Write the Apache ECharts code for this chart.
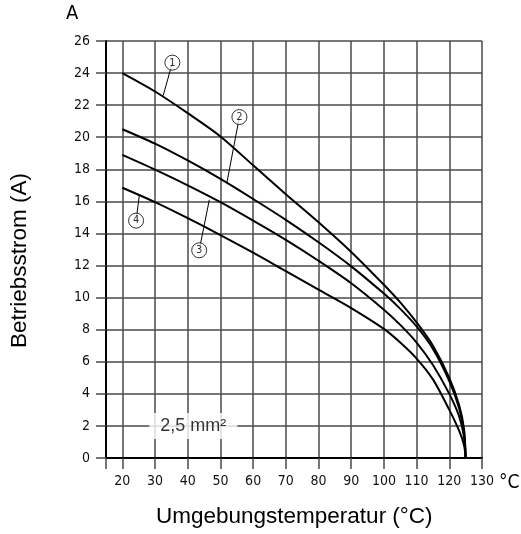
<!DOCTYPE html>
<html>
<head>
<meta charset="utf-8">
<script src="https://cdn.jsdelivr.net/npm/echarts@6/dist/echarts.min.js"></script>
<style>
html,body{margin:0;padding:0;background:#fff;}
#main{width:521px;height:534px;}
</style>
</head>
<body>
<div id="main"></div>
<script>
// Umgebungstemperatur (°C)
var temps  = [20, 30, 40, 50, 60, 70, 80, 90, 100, 105, 110, 115, 120, 123, 124.5, 125];
// Betriebsstrom (A), Kurven 1..4
var curve1 = [24.0, 22.85, 21.5, 20.05, 18.25, 16.45, 14.7, 12.85, 10.8, 9.7, 8.45, 7.0, 5.0, 3.3, 1.8, 0];
var curve2 = [20.5, 19.6, 18.55, 17.4, 16.15, 14.85, 13.45, 11.95, 10.25, 9.3, 8.2, 6.8, 4.8, 3.1, 1.6, 0];
var curve3 = [18.9, 17.98, 17.0, 15.95, 14.8, 13.6, 12.3, 10.9, 9.25, 8.3, 7.2, 5.8, 4.0, 2.6, 1.3, 0];
var curve4 = [16.85, 15.95, 14.95, 13.9, 12.8, 11.65, 10.5, 9.35, 8.05, 7.2, 6.2, 4.9, 3.0, 1.7, 0.8, 0];

var xTicks = [15, 20, 30, 40, 50, 60, 70, 80, 90, 100, 110, 120, 130];
var xLabels = [20, 30, 40, 50, 60, 70, 80, 90, 100, 110, 120, 130];

// Kurvenbeschriftung: Kreis-Position und Ende der Hinweislinie
var tagNames = ['1', '2', '3', '4'];
var tagPos   = [[35.3, 24.65], [55.8, 21.26], [43.5, 12.95], [24.2, 14.8]];
var tagEnd   = [[32.5, 22.6], [52.0, 17.2], [46.6, 16.1], [25.2, 16.4]];

var sizeText = '2,5 mm²';
var sizePos  = [41.7, 2.0];

var digitFont = "DejaVu Sans Condensed";
var gridColor = '#4a4a4a';

var myChart = echarts.init(document.getElementById('main'));

function curveSeries(data) {
	return {
		type: 'line',
		data: temps.map(function (t, i) { return [t, data[i]]; }),
		symbol: 'none',
		smooth: 0.3,
		lineStyle: { color: '#000', width: 2 },
		z: 3
	};
}

var option = {
	animation: false,
	backgroundColor: '#fff',
	grid: {
		left: 106,
		right: 39,
		top: 41,
		bottom: 76
	},
	xAxis: {
		type: 'value',
		min: 15,
		max: 130,
		axisLine: { show: true, onZero: false, lineStyle: { color: '#000', width: 2 } },
		axisTick: {
			show: true,
			length: 11,
			customValues: xTicks,
			lineStyle: { color: gridColor, width: 1.5 }
		},
		axisLabel: {
			customValues: xLabels,
			margin: 16,
			fontFamily: digitFont,
			fontSize: 14,
			color: '#111'
		},
		splitLine: { show: true, lineStyle: { color: gridColor, width: 1.5 } }
	},
	yAxis: {
		type: 'value',
		min: 0,
		max: 26,
		interval: 2,
		axisLine: { show: true, onZero: false, lineStyle: { color: '#000', width: 2 } },
		axisTick: { show: true, length: 10, lineStyle: { color: gridColor, width: 1.5 } },
		axisLabel: {
			margin: 16,
			fontFamily: digitFont,
			fontSize: 14,
			color: '#111'
		},
		splitLine: { show: true, lineStyle: { color: gridColor, width: 1.5 } }
	},
	series: [
		curveSeries(curve1),
		curveSeries(curve2),
		curveSeries(curve3),
		curveSeries(curve4),
		// Kreise mit Nummern
		{
			type: 'scatter',
			data: tagPos.map(function (p, i) { return { value: p, name: tagNames[i] }; }),
			symbol: 'circle',
			symbolSize: 15,
			itemStyle: { color: '#fff', borderColor: '#000', borderWidth: 1 },
			label: {
				show: true,
				position: 'inside',
				formatter: '{b}',
				fontFamily: digitFont,
				fontSize: 11,
				color: '#000'
			},
			markLine: {
				silent: true,
				symbol: 'none',
				label: { show: false },
				lineStyle: { color: '#000', width: 1, type: 'solid' },
				data: tagPos.map(function (p, i) {
					return [{ coord: p }, { coord: tagEnd[i] }];
				})
			},
			z: 5
		},
		// Querschnitt
		{
			type: 'scatter',
			data: [{ value: sizePos, name: sizeText }],
			symbolSize: 0,
			label: {
				show: true,
				position: 'inside',
				formatter: '{b}',
				fontFamily: 'Liberation Sans',
				fontSize: 18,
				color: '#000',
				backgroundColor: '#fff',
				padding: [4, 11, 4, 11]
			},
			z: 4
		}
	],
	graphic: [
		{ type: 'text', left: 66, top: 4,
		  style: { text: 'A', fontFamily: digitFont, fontSize: 20, fill: '#000' } },
		{ type: 'text', left: 499, top: 474,
		  style: { text: '°C', fontFamily: digitFont, fontSize: 19, fill: '#000' } },
		{ type: 'text', left: 8, top: 173, rotation: Math.PI / 2,
		  style: { text: 'Betriebsstrom (A)', fontFamily: 'Liberation Sans', fontSize: 22.5, fill: '#000' } },
		{ type: 'text', left: 156, top: 505,
		  style: { text: 'Umgebungstemperatur (°C)', fontFamily: 'Liberation Sans', fontSize: 22.5, fill: '#000' } }
	]
};

myChart.setOption(option);
</script>
</body>
</html>
